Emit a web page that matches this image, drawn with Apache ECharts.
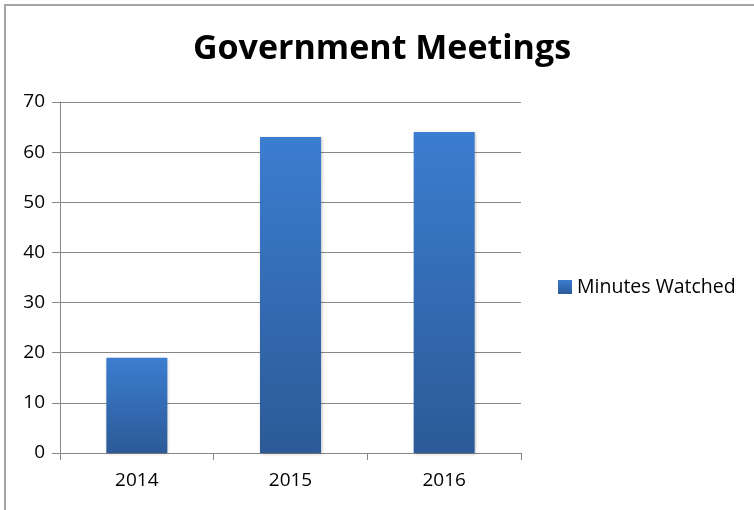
<!DOCTYPE html>
<html>
<head>
<meta charset="utf-8">
<script src="https://cdn.jsdelivr.net/npm/echarts@6/dist/echarts.min.js"></script>
<style>html,body{margin:0;padding:0;background:#fff;}#c{width:754px;height:510px;}</style>
</head>
<body>
<div id="c"></div>
<script>
var categories = ['2014', '2015', '2016'];
var minutesWatched = [19, 63, 64];
var seriesName = 'Minutes Watched';
var titleText = 'Government Meetings';

var chart = echarts.init(document.getElementById('c'));
var grad = new echarts.graphic.LinearGradient(0, 0, 0, 1, [
  {offset: 0, color: '#3b7dd0'},
  {offset: 1, color: '#2c5a97'}
]);
chart.setOption({
  animation: false,
  backgroundColor: '#fff',
  graphic: [{
    type: 'rect', shape: {x: 5, y: 5, width: 800, height: 600},
    style: {fill: 'none', stroke: '#a6a6a6', lineWidth: 2}, silent: true
  }],
  title: {
    text: titleText, left: 377, top: 27, textAlign: 'center',
    textStyle: {fontFamily: 'Open Sans', fontWeight: 'bold', fontSize: 34, color: '#000'}
  },
  legend: {
    left: 553, top: 272, itemWidth: 14, itemHeight: 14, icon: 'rect', itemGap: 6,
    textStyle: {fontFamily: 'Open Sans', fontSize: 19.5, color: '#000'},
    data: [{name: seriesName, itemStyle: {color: grad}}]
  },
  grid: {left: 60, right: 233, top: 102, bottom: 57, containLabel: false},
  xAxis: {
    type: 'category', data: categories,
    axisLine: {lineStyle: {color: '#868686', width: 1}},
    axisTick: {show: true, length: 7, lineStyle: {color: '#868686'}},
    axisLabel: {fontFamily: 'Open Sans', fontSize: 19, color: '#000', margin: 18}
  },
  yAxis: {
    type: 'value', min: 0, max: 70, interval: 10,
    axisLine: {show: true, lineStyle: {color: '#868686', width: 1}},
    axisTick: {show: true, length: 8, lineStyle: {color: '#868686'}},
    axisLabel: {fontFamily: 'Open Sans', fontSize: 19, color: '#000', margin: 15},
    splitLine: {lineStyle: {color: '#868686', width: 1}}
  },
  series: [{
    name: seriesName, type: 'bar', data: minutesWatched, barWidth: 61,
    itemStyle: {color: grad, shadowColor: 'rgba(0,0,0,0.25)', shadowBlur: 3, shadowOffsetX: 1, shadowOffsetY: 1}
  }]
});
</script>
</body>
</html>
